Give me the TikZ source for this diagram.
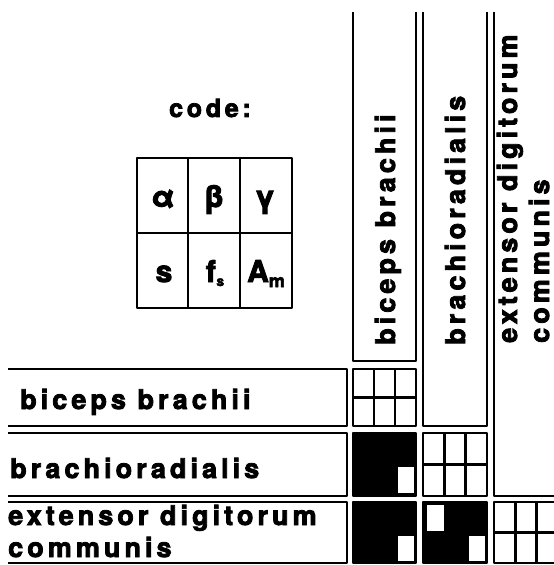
\documentclass[tikz,border=0pt]{standalone}
\usepackage{fontspec}
\setmainfont{TeX Gyre Heros}
\newfontfamily\spaced[LetterSpace=15,BoldFeatures={FakeBold=3}]{TeX Gyre Heros}
\usetikzlibrary{calc}
\newcommand{\lblsize}{\fontsize{27bp}{32bp}\selectfont}
\newcommand{\symsize}{\fontsize{30bp}{30bp}\selectfont}
\newcommand{\subsize}{\fontsize{14bp}{14bp}\selectfont}
\tikzset{
  frame/.style={line width=2.8bp,line join=round},
  lbl/.style={font=\spaced\bfseries\lblsize,inner sep=0pt,anchor=base west,align=left},
  vlbl/.style={lbl,rotate=90},
  sym/.style={font=\spaced\bfseries\symsize,inner sep=0pt,anchor=base},
  hole/.style={fill=white},
}

\begin{document}
\begin{tikzpicture}[x=1bp,y=-1bp]
  \useasboundingbox (0,0) rectangle (554,565);
  % legend
  \node[lbl,anchor=base,font=\spaced\bfseries\fontsize{25bp}{30bp}\selectfont] (code) at (210,117) {code:};
  \draw[frame] (137,158) rectangle (292,308);
  \draw[frame] (188,158) -- (188,308) (240,158) -- (240,308) (137,233) -- (292,233);
  \node[sym] (alpha) at (163,207) {α};
  \node[sym] (beta) at (214,207) {β};
  \node[sym] (gamma) at (265,207) {γ};
  \node[sym] (s) at (164,282) {s};
  \node[sym] (fs) at (215,282) {f\kern.5bp\raisebox{-4bp}{\subsize s}};
  \node[sym] (Am) at (266,282) {A\raisebox{-5bp}{\fontsize{18bp}{18bp}\selectfont m}};
  % row labels, open on the left
  \foreach \ya/\yb in {369/426, 433/496, 502/563}
    \draw[frame] (8,\ya) -- (347,\ya) -- (347,\yb) -- (8,\yb);
  \node[lbl] (rowBB) at (20,409) {biceps brachii};
  \node[lbl] (rowBR) at (10,478) {brachioradialis};
  \node[lbl] (rowED) at (8,557) {extensor digitorum\\communis};
  % column labels, open at the top
  \foreach \xa/\xb/\yb in {353/416/361, 423/487/426, 494/558/496}
    \draw[frame] (\xa,12) -- (\xa,\yb) -- (\xb,\yb) -- (\xb,12);
  \node[vlbl] (colBB) at (395,345) {biceps brachii};
  \node[vlbl] (colBR) at (465,345) {brachioradialis};
  \node[vlbl] (colED) at (549,343) {extensor digitorum\\communis};
  % empty cells on the diagonal
  \foreach \xa/\ya/\xb/\yb in {353/369/416/426, 423/433/487/496, 494/502/558/563}{
    \draw[frame] (\xa,\ya) rectangle (\xb,\yb);
    \draw[frame] ({\xa+(\xb-\xa)/3},\ya) -- ({\xa+(\xb-\xa)/3},\yb)
                 ({\xa+2*(\xb-\xa)/3},\ya) -- ({\xa+2*(\xb-\xa)/3},\yb)
                 (\xa,{(\ya+\yb)/2}) -- (\xb,{(\ya+\yb)/2});
  }
  % filled cells below it
  \foreach \xa/\ya/\xb/\yb in {353/433/416/496, 353/502/416/563, 423/502/487/563}
    \filldraw[frame] (\xa,\ya) rectangle (\xb,\yb);
  \fill[hole] (398,467) rectangle (414,493);
  \fill[hole] (398,536) rectangle (414,561);
  \fill[hole] (469,536) rectangle (485,561);
  \fill[hole] (427,505) rectangle (444,531);
\end{tikzpicture}
\end{document}
